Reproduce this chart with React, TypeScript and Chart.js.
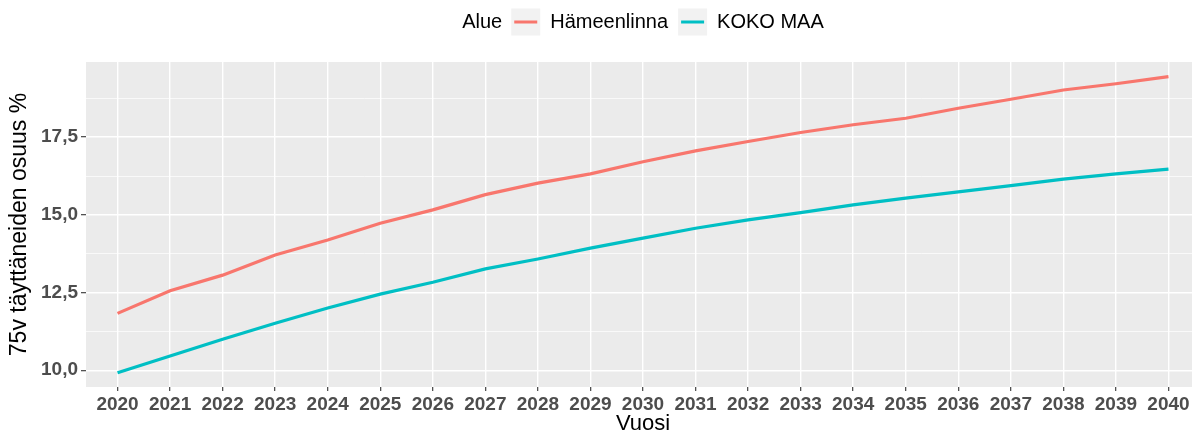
import React, { useEffect, useRef } from "react";
import { Chart, registerables } from "chart.js";

Chart.register(...registerables);

const years = [2020, 2021, 2022, 2023, 2024, 2025, 2026, 2027, 2028, 2029, 2030, 2031, 2032, 2033, 2034, 2035, 2036, 2037, 2038, 2039, 2040];
const hameenlinna = [11.83, 12.56, 13.06, 13.71, 14.19, 14.73, 15.16, 15.65, 16.02, 16.32, 16.71, 17.06, 17.36, 17.65, 17.9, 18.11, 18.43, 18.72, 19.02, 19.22, 19.45];
const kokoMaa = [9.92, 10.46, 11.0, 11.51, 12.0, 12.45, 12.83, 13.26, 13.58, 13.93, 14.25, 14.57, 14.84, 15.07, 15.32, 15.54, 15.74, 15.94, 16.15, 16.32, 16.47];
const seriesNames = ["Hämeenlinna", "KOKO MAA"];
const seriesColors = ["#F8766D", "#00BFC4"];
const legendTitle = "Alue";
const yMajor = [10, 12.5, 15, 17.5];
const yMinor = [11.25, 13.75, 16.25, 18.75];
const xTitle = "Vuosi";
const yTitle = "75v täyttäneiden osuus %";

const FONT = '"Liberation Sans", Arial, Helvetica, sans-serif';

const panelBg = {
  id: "panelBg",
  beforeDraw(chart: any) {
    const { ctx, chartArea } = chart;
    ctx.save();
    ctx.fillStyle = "#EBEBEB";
    ctx.fillRect(chartArea.left, chartArea.top, chartArea.right - chartArea.left, chartArea.bottom - chartArea.top);
    ctx.restore();
  },
};

const inlineLegend = {
  id: "inlineLegend",
  afterDraw(chart: any) {
    const { ctx, chartArea } = chart;
    ctx.save();
    ctx.font = `20px ${FONT}`;
    ctx.textBaseline = "middle";
    ctx.textAlign = "left";
    const boxW = 29;
    const boxH = 27;
    const wTitle = ctx.measureText(legendTitle).width;
    const wLabels = seriesNames.map((s) => ctx.measureText(s).width);
    const total = wTitle + 9 + (boxW + 10) * seriesNames.length + wLabels.reduce((a, b) => a + b, 0) + 10 * (seriesNames.length - 1);
    const cx = (chartArea.left + chartArea.right) / 2;
    let x = cx - total / 2;
    const cy = 22;
    ctx.fillStyle = "#000000";
    ctx.fillText(legendTitle, x, cy);
    x += wTitle + 9;
    seriesNames.forEach((name, i) => {
      ctx.fillStyle = "#F2F2F2";
      ctx.fillRect(x, cy - boxH / 2, boxW, boxH);
      ctx.strokeStyle = seriesColors[i];
      ctx.lineWidth = 3;
      ctx.beginPath();
      ctx.moveTo(x + 3, cy);
      ctx.lineTo(x + boxW - 3, cy);
      ctx.stroke();
      x += boxW + 10;
      ctx.fillStyle = "#000000";
      ctx.fillText(name, x, cy);
      x += wLabels[i] + 10;
    });
    ctx.restore();
  },
};

const isMajor = (v: number) => yMajor.some((m) => Math.abs(m - v) < 1e-6);

export default function App() {
  const ref = useRef<HTMLCanvasElement | null>(null);

  useEffect(() => {
    document.body.style.margin = "0";
    document.body.style.overflow = "hidden";
    document.documentElement.style.overflow = "hidden";
    const canvas = ref.current;
    if (!canvas) return;
    const chart = new Chart(canvas, {
      type: "line",
      data: {
        datasets: [
          {
            label: seriesNames[0],
            data: years.map((y, i) => ({ x: y, y: hameenlinna[i] })),
            borderColor: seriesColors[0],
            backgroundColor: seriesColors[0],
            borderWidth: 3.2,
            pointRadius: 0,
            tension: 0,
          },
          {
            label: seriesNames[1],
            data: years.map((y, i) => ({ x: y, y: kokoMaa[i] })),
            borderColor: seriesColors[1],
            backgroundColor: seriesColors[1],
            borderWidth: 3.2,
            pointRadius: 0,
            tension: 0,
          },
        ],
      },
      options: {
        responsive: false,
        animation: false,
        layout: { padding: { top: 62, right: 0, left: 0, bottom: 0 } },
        plugins: {
          legend: { display: false },
          tooltip: { enabled: false },
        },
        scales: {
          x: {
            type: "linear",
            min: 2019.4,
            max: 2040.6,
            afterBuildTicks: (s: any) => {
              s.ticks = years.map((v) => ({ value: v }));
            },
            afterFit: (s: any) => {
              s.height = 48;
            },
            border: { display: false },
            grid: {
              color: "#FFFFFF",
              lineWidth: 1.4,
              tickLength: 4,
              tickColor: "#333333",
              tickWidth: 1.1,
            },
            ticks: {
              autoSkip: false,
              maxRotation: 0,
              padding: 2,
              color: "#4D4D4D",
              font: { family: FONT, size: 19, weight: "bold" },
              callback: (v: any) => String(v),
            },
            title: {
              display: true,
              text: xTitle,
              color: "#000000",
              font: { family: FONT, size: 22, lineHeight: 1.0 },
              padding: { top: 0, bottom: 0 },
            },
          },
          y: {
            type: "linear",
            min: 9.46,
            max: 19.92,
            afterBuildTicks: (s: any) => {
              s.ticks = [...yMajor, ...yMinor].sort((a, b) => a - b).map((v) => ({ value: v }));
            },
            afterFit: (s: any) => {
              s.width = 86;
            },
            border: { display: false },
            grid: {
              color: "#FFFFFF",
              lineWidth: (c: any) => (c.tick && isMajor(c.tick.value) ? 1.4 : 0.7),
              tickLength: 5,
              tickColor: (c: any) => (c.tick && isMajor(c.tick.value) ? "#333333" : "rgba(0,0,0,0)"),
              tickWidth: 1.1,
            },
            ticks: {
              autoSkip: false,
              padding: 3,
              color: "#4D4D4D",
              font: { family: FONT, size: 19, weight: "bold" },
              callback: (v: any) => (isMajor(Number(v)) ? Number(v).toFixed(1).replace(".", ",") : ""),
            },
            title: {
              display: true,
              text: yTitle,
              color: "#000000",
              font: { family: FONT, size: 23, lineHeight: 1.2 },
              padding: { top: 6, bottom: 0 },
            },
          },
        },
      },
      plugins: [panelBg, inlineLegend],
    } as any);
    return () => chart.destroy();
  }, []);

  return (
    <div style={{ width: 1200, height: 435, overflow: "hidden" }}>
      <canvas ref={ref} width={1200} height={435} style={{ display: "block", width: 1200, height: 435 }} />
    </div>
  );
}
